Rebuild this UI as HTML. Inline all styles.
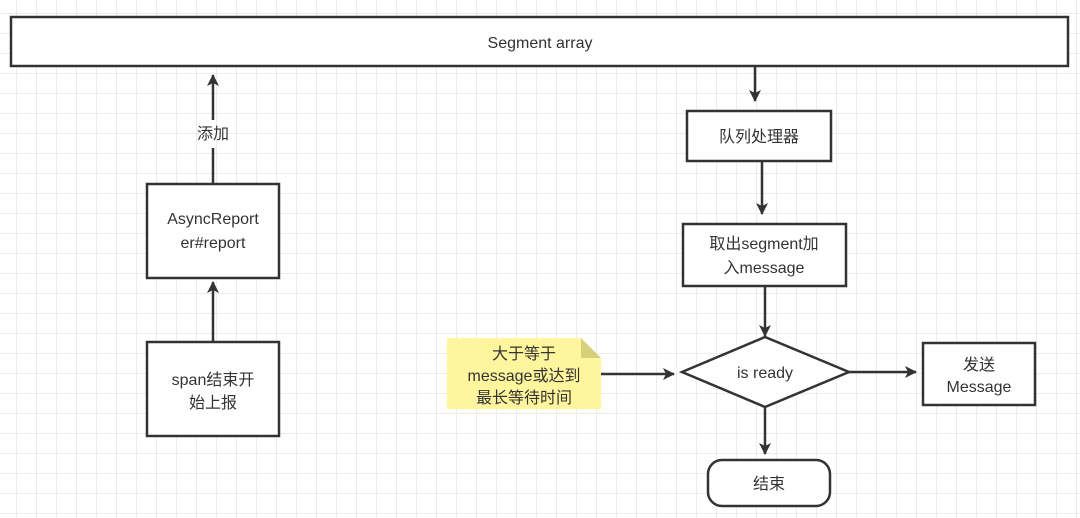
<!DOCTYPE html>
<html><head><meta charset="utf-8"><style>
body{margin:0;width:1080px;height:518px;overflow:hidden;background:#fff;
background-image:linear-gradient(#ececec 1px,transparent 1px),linear-gradient(90deg,#ececec 1px,transparent 1px);
background-size:20px 20px;background-position:16px 13px;}
svg{position:absolute;left:0;top:0}
text{font-family:"Liberation Sans","Noto Sans CJK SC",sans-serif;font-size:16px;fill:#333;text-anchor:middle}
</style></head><body>
<svg width="1080" height="518" viewBox="0 0 1080 518">
<defs><marker id="a" markerWidth="10" markerHeight="10" refX="9" refY="5" orient="auto" markerUnits="userSpaceOnUse" viewBox="0 0 10 10"><path d="M0,0L10,5L0,10L2,5z" fill="#333"/></marker>
<marker id="b" markerWidth="12" markerHeight="12" refX="11" refY="6" orient="auto" markerUnits="userSpaceOnUse" viewBox="0 0 12 12"><path d="M0,0L12,6L0,12L3,6z" fill="#333"/></marker></defs>
<g stroke="#333" stroke-width="2.5" fill="#fff">
<rect x="11" y="17" width="1057" height="49"/>
<rect x="147" y="184" width="132" height="94"/>
<rect x="147" y="342" width="132" height="94"/>
<rect x="687" y="111" width="144" height="50"/>
<rect x="683" y="224" width="163" height="62"/>
<path d="M682,372L765,337L849,372L765,407z"/>
<rect x="923" y="343" width="112" height="62"/>
<rect x="708" y="460" width="122" height="46" rx="14"/>
</g>
<path d="M447,338H581L601,358V409H447z" fill="#fff59d"/>
<path d="M581,338L601,358H581z" fill="#d6d07a"/>
<g stroke="#333" stroke-width="2.5" fill="none">
<path d="M213,120V75" marker-end="url(#b)"/>
<path d="M213,148V184"/>
<path d="M213,342V282" marker-end="url(#b)"/>
<path d="M755,66V101" marker-end="url(#b)"/>
<path d="M762,161V214" marker-end="url(#b)"/>
<path d="M765,286V336" marker-end="url(#b)"/>
<path d="M601,374H674" marker-end="url(#b)"/>
<path d="M849,372H916" marker-end="url(#b)"/>
<path d="M765,407V454" marker-end="url(#b)"/>
</g>
<text x="540" y="48">Segment array</text>
<text x="213" y="139">添加</text>
<text x="213" y="224">AsyncReport</text>
<text x="213" y="248">er#report</text>
<text x="213" y="385">span结束开</text>
<text x="213" y="408">始上报</text>
<text x="759" y="142">队列处理器</text>
<text x="764" y="249">取出segment加</text>
<text x="764" y="273">入message</text>
<text x="765" y="378">is ready</text>
<text x="979" y="370">发送</text>
<text x="979" y="392">Message</text>
<text x="769" y="489">结束</text>
<text x="524" y="359">大于等于</text>
<text x="524" y="381">message或达到</text>
<text x="524" y="403">最长等待时间</text>
</svg>
</body></html>
